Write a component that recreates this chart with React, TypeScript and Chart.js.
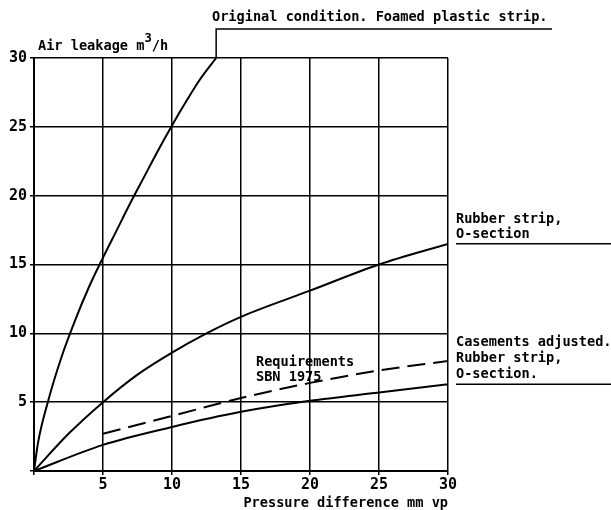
import React, { useEffect, useRef } from 'react';
import { Chart, registerables } from 'chart.js';

Chart.register(...registerables);

// ---- Data ----
const xTicks = [0, 5, 10, 15, 20, 25, 30];
const yTicks = [0, 5, 10, 15, 20, 25, 30];

const originalX = [0, 0.3, 1, 2, 3, 4, 5, 6, 7, 8, 9, 10, 11, 12, 13.2];
const originalY = [0, 2.1, 5.0, 8.3, 11.0, 13.4, 15.5, 17.5, 19.5, 21.4, 23.3, 25.1, 26.8, 28.4, 30];

const rubberX = [0, 2.5, 5, 7.5, 10, 12.5, 15, 20, 25, 30];
const rubberY = [0, 2.7, 5.0, 7.0, 8.6, 10.0, 11.2, 13.1, 15.0, 16.5];

const casementX = [0, 5, 10, 15, 20, 25, 30];
const casementY = [0, 1.9, 3.2, 4.3, 5.1, 5.7, 6.3];

const reqX = [5, 10, 15, 20, 25, 30];
const reqY = [2.7, 4.0, 5.3, 6.4, 7.3, 8.0];

const FONT = '"DejaVu Sans Mono", monospace';
const FS = 13.6;
const FW = '600';

const pts = (xs: number[], ys: number[]) => xs.map((x, i) => ({ x, y: ys[i] }));

const annotPlugin = {
  id: 'annot',
  afterDraw(chart: any) {
    const ctx = chart.ctx as CanvasRenderingContext2D;
    const xs = chart.scales.x;
    const ys = chart.scales.y;
    ctx.save();
    ctx.fillStyle = '#000';
    ctx.strokeStyle = '#000';
    ctx.lineWidth = 1.5;
    ctx.textBaseline = 'middle';
    ctx.textAlign = 'left';
    ctx.font = `${FW} ${FS}px ${FONT}`;

    // Original condition leader
    const ox = xs.getPixelForValue(originalX[originalX.length - 1]);
    const oy = ys.getPixelForValue(originalY[originalY.length - 1]);
    ctx.beginPath();
    ctx.moveTo(ox, oy);
    ctx.lineTo(ox, 29);
    ctx.lineTo(552, 29);
    ctx.stroke();
    ctx.fillText('Original condition. Foamed plastic strip.', 212, 17);

    const lx = 456;
    // Rubber strip leader
    const ry = ys.getPixelForValue(rubberY[rubberY.length - 1]);
    ctx.beginPath();
    ctx.moveTo(xs.right + 8, ry);
    ctx.lineTo(611, ry);
    ctx.stroke();
    ctx.fillText('Rubber strip,', lx, ry - 24);
    ctx.fillText('O-section', lx, ry - 9);

    // Casements leader
    const cy = ys.getPixelForValue(casementY[casementY.length - 1]);
    ctx.beginPath();
    ctx.moveTo(xs.right + 8, cy);
    ctx.lineTo(611, cy);
    ctx.stroke();
    ctx.fillText('Casements adjusted.', lx, cy - 42);
    ctx.fillText('Rubber strip,', lx, cy - 26);
    ctx.fillText('O-section.', lx, cy - 10);

    // Requirements label
    ctx.fillText('Requirements', 256, 362);
    ctx.fillText('SBN 1975', 256, 377);

    // Y axis title with superscript
    let tx = 38;
    const ty = 46;
    const a = 'Air leakage m';
    ctx.fillText(a, tx, ty);
    tx += ctx.measureText(a).width;
    ctx.font = `${FW} ${FS * 0.9}px ${FONT}`;
    ctx.fillText('3', tx, ty - 7);
    tx += ctx.measureText('3').width;
    ctx.font = `${FW} ${FS}px ${FONT}`;
    ctx.fillText('/h', tx, ty);

    // X axis title
    ctx.textAlign = 'right';
    ctx.fillText('Pressure difference mm vp', 448, 503);

    ctx.restore();
  },
};

export default function App() {
  const ref = useRef<HTMLCanvasElement | null>(null);

  useEffect(() => {
    document.body.style.margin = '0';
    const canvas = ref.current!;
    const common = {
      borderColor: '#000',
      borderWidth: 2,
      pointRadius: 0,
      fill: false,
      cubicInterpolationMode: 'monotone' as const,
    };
    const tickFont = { family: FONT, size: 15, weight: FW as any };
    const chart = new Chart(canvas, {
      type: 'line',
      data: {
        datasets: [
          { ...common, label: 'Original condition. Foamed plastic strip.', data: pts(originalX, originalY) },
          { ...common, label: 'Rubber strip, O-section', data: pts(rubberX, rubberY) },
          { ...common, label: 'Casements adjusted. Rubber strip, O-section.', data: pts(casementX, casementY) },
          { ...common, label: 'Requirements SBN 1975', data: pts(reqX, reqY), borderDash: [18, 8] },
        ],
      },
      options: {
        animation: false,
        responsive: false,
        devicePixelRatio: 1,
        layout: { padding: { top: 58, right: 163, left: 0, bottom: 0 } },
        plugins: { legend: { display: false }, tooltip: { enabled: false } },
        scales: {
          x: {
            type: 'linear',
            min: 0,
            max: 30,
            afterBuildTicks: (s: any) => { s.ticks = xTicks.map((v) => ({ value: v })); },
            ticks: {
              callback: (v: any) => (v === 0 ? '' : String(v)),
              color: '#000',
              font: tickFont,
              padding: 1,
              maxRotation: 0,
              autoSkip: false,
            },
            grid: { color: '#000', lineWidth: 1.5, tickLength: 4 },
            border: { color: '#000', width: 2 },
            afterFit: (s: any) => { s.height = 39; },
          },
          y: {
            type: 'linear',
            min: 0,
            max: 30,
            afterBuildTicks: (s: any) => { s.ticks = yTicks.map((v) => ({ value: v })); },
            ticks: {
              callback: (v: any) => (v === 0 ? '' : String(v)),
              color: '#000',
              font: tickFont,
              padding: 3,
              autoSkip: false,
            },
            grid: { color: '#000', lineWidth: 1.5, tickLength: 4 },
            border: { color: '#000', width: 2 },
            afterFit: (s: any) => { s.width = 34; },
          },
        },
      },
      plugins: [annotPlugin],
    });
    return () => chart.destroy();
  }, []);

  return (
    <div style={{ width: 611, height: 510, background: '#fff' }}>
      <canvas ref={ref} width={611} height={510} style={{ width: 611, height: 510, display: 'block' }} />
    </div>
  );
}
